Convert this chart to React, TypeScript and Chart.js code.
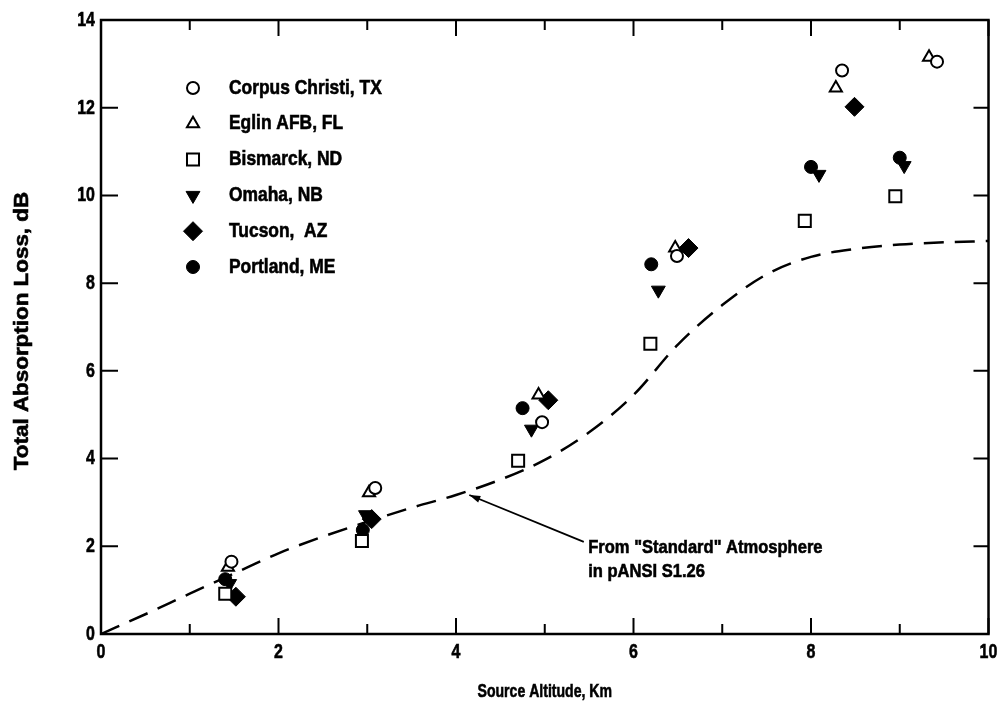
import React, { useEffect, useRef } from "react";
import { Chart, registerables } from "chart.js";
import { drawPoint } from "chart.js/helpers";

Chart.register(...registerables);

// ---- data ----
const stationNames = ["Corpus Christi, TX", "Eglin AFB, FL", "Bismarck, ND", "Omaha, NB", "Tucson,  AZ", "Portland, ME"];

const corpusX = [1.47, 3.09, 4.97, 6.49, 8.35, 9.42];
const corpusY = [1.65, 3.33, 4.83, 8.62, 12.85, 13.05];
const eglinX = [1.43, 3.02, 4.93, 6.47, 8.28, 9.33];
const eglinY = [1.52, 3.22, 5.45, 8.8, 12.45, 13.15];
const bismarckX = [1.4, 2.94, 4.7, 6.19, 7.93, 8.95];
const bismarckY = [0.92, 2.12, 3.95, 6.62, 9.42, 9.98];
const omahaX = [1.45, 2.98, 4.85, 6.28, 8.09, 9.05];
const omahaY = [1.15, 2.72, 4.67, 7.84, 10.48, 10.68];
const tucsonX = [1.52, 3.05, 5.04, 6.62, 8.49];
const tucsonY = [0.85, 2.62, 5.33, 8.8, 12.02];
const portlandX = [1.4, 2.95, 4.75, 6.2, 8.0, 9.0];
const portlandY = [1.25, 2.37, 5.15, 8.43, 10.65, 10.86];

const standardX = [0, 0.5, 1, 1.5, 2, 2.5, 3, 3.5, 4, 4.5, 5, 5.5, 6, 6.5, 7, 7.5, 8, 8.5, 9, 9.5, 10];
const standardY = [0, 0.45, 0.92, 1.38, 1.84, 2.22, 2.56, 2.88, 3.17, 3.52, 3.97, 4.6, 5.45, 6.6, 7.5, 8.2, 8.6, 8.78, 8.88, 8.93, 8.96];

const xTickMarks = [0, 1, 2, 3, 4, 5, 6, 7, 8, 9, 10];
const yTickMarks = [0, 2, 4, 6, 8, 10, 12, 14];

const xTitle = "Source Altitude, Km";
const yTitle = "Total Absorption Loss, dB";
const annotationLines = ['From "Standard" Atmosphere', "in pANSI S1.26"];

const FONT = "'Liberation Sans', Arial, sans-serif";

const toPts = (xs: number[], ys: number[]) => xs.map((x, i) => ({ x, y: ys[i] }));

const markerStyles = [
  { pointStyle: "circle", radius: 6, rotation: 0, fill: "#fff", borderWidth: 2 },
  { pointStyle: "triangle", radius: 7, rotation: 0, fill: "#fff", borderWidth: 2 },
  { pointStyle: "rect", radius: 8.5, rotation: 0, fill: "#fff", borderWidth: 2 },
  { pointStyle: "triangle", radius: 8, rotation: 180, fill: "#000", borderWidth: 1 },
  { pointStyle: "rectRot", radius: 9.5, rotation: 0, fill: "#000", borderWidth: 1 },
  { pointStyle: "circle", radius: 6.5, rotation: 0, fill: "#000", borderWidth: 1 },
];

const seriesX = [corpusX, eglinX, bismarckX, omahaX, tucsonX, portlandX];
const seriesY = [corpusY, eglinY, bismarckY, omahaY, tucsonY, portlandY];

function drawText(
  ctx: CanvasRenderingContext2D,
  text: string,
  x: number,
  y: number,
  size: number,
  sx: number,
  align: CanvasTextAlign,
  rotate = false
) {
  ctx.save();
  ctx.translate(x, y);
  if (rotate) ctx.rotate(-Math.PI / 2);
  ctx.scale(sx, 1);
  ctx.font = `bold ${size}px ${FONT}`;
  ctx.textAlign = align;
  ctx.textBaseline = "middle";
  ctx.fillStyle = "#000";
  ctx.strokeStyle = "#000";
  ctx.lineWidth = 0.6;
  ctx.fillText(text, 0, 0);
  ctx.strokeText(text, 0, 0);
  ctx.restore();
}

const framePlugin = {
  id: "frameTicks",
  beforeDatasetsDraw(chart: any) {
    const { ctx, chartArea, scales } = chart;
    const { left, right, top, bottom } = chartArea;
    ctx.save();
    ctx.strokeStyle = "#000";
    ctx.lineWidth = 2.5;
    ctx.strokeRect(left, top, right - left, bottom - top);
    ctx.lineWidth = 2;
    ctx.beginPath();
    for (const v of xTickMarks) {
      const px = scales.x.getPixelForValue(v);
      const len = v % 2 === 0 ? 16 : 10;
      ctx.moveTo(px, bottom);
      ctx.lineTo(px, bottom - len);
      ctx.moveTo(px, top);
      ctx.lineTo(px, top + len);
    }
    for (const v of yTickMarks) {
      const py = scales.y.getPixelForValue(v);
      ctx.moveTo(left, py);
      ctx.lineTo(left + 17, py);
      ctx.moveTo(right, py);
      ctx.lineTo(right - 15, py);
    }
    ctx.stroke();
    ctx.restore();
  },
  afterDatasetsDraw(chart: any) {
    const { ctx, scales } = chart;
    const x = scales.x;
    const y = scales.y;
    ctx.save();
    // arrow
    const tx = x.getPixelForValue(4.15);
    const ty = y.getPixelForValue(3.17);
    const sx = x.getPixelForValue(5.44);
    const sy = y.getPixelForValue(2.1);
    ctx.strokeStyle = "#000";
    ctx.fillStyle = "#000";
    ctx.lineWidth = 1.8;
    ctx.beginPath();
    ctx.moveTo(sx, sy);
    ctx.lineTo(tx, ty);
    ctx.stroke();
    const ang = Math.atan2(ty - sy, tx - sx);
    const hl = 11;
    const hw = 3.5;
    ctx.beginPath();
    ctx.moveTo(tx, ty);
    ctx.lineTo(tx - hl * Math.cos(ang) + hw * Math.sin(ang), ty - hl * Math.sin(ang) - hw * Math.cos(ang));
    ctx.lineTo(tx - hl * Math.cos(ang) - hw * Math.sin(ang), ty - hl * Math.sin(ang) + hw * Math.cos(ang));
    ctx.closePath();
    ctx.fill();
    ctx.restore();
    const textX = x.getPixelForValue(5.49);
    drawText(ctx, annotationLines[0], textX, y.getPixelForValue(1.96), 19, 0.87, "left");
    drawText(ctx, annotationLines[1], textX, y.getPixelForValue(1.41), 19, 0.87, "left");
  },
  afterDraw(chart: any) {
    const { ctx, chartArea, scales } = chart;
    // tick labels
    for (const t of scales.x.ticks) {
      drawText(ctx, String(t.value), scales.x.getPixelForValue(t.value), chartArea.bottom + 18, 21, 0.76, "center");
    }
    for (const t of scales.y.ticks) {
      drawText(ctx, String(t.value), chartArea.left - 6, scales.y.getPixelForValue(t.value), 21, 0.76, "right");
    }
    // axis titles
    drawText(ctx, xTitle, (chartArea.left + chartArea.right) / 2, chartArea.bottom + 58, 19, 0.74, "center");
    drawText(ctx, yTitle, 22, (chartArea.top + chartArea.bottom) / 2 + 4, 20, 1.12, "center", true);
    // legend
    const mx = chartArea.left + 92;
    const tx = chartArea.left + 128;
    const y0 = chartArea.top + 68;
    const dy = 35.8;
    stationNames.forEach((name, i) => {
      const m = markerStyles[i];
      const yy = y0 + dy * i;
      ctx.save();
      ctx.fillStyle = m.fill;
      ctx.strokeStyle = "#000";
      ctx.lineWidth = m.borderWidth;
      drawPoint(ctx, { pointStyle: m.pointStyle, radius: m.radius, rotation: m.rotation, borderWidth: m.borderWidth } as any, mx, yy);
      ctx.restore();
      drawText(ctx, name, tx, yy, 20, 0.87, "left");
    });
  },
};

export default function App() {
  const ref = useRef<HTMLCanvasElement>(null);
  useEffect(() => {
    document.body.style.margin = "0";
    const datasets: any[] = stationNames.map((name, i) => {
      const m = markerStyles[i];
      return {
        label: name,
        data: toPts(seriesX[i], seriesY[i]),
        pointStyle: m.pointStyle,
        pointRadius: m.radius,
        pointRotation: m.rotation,
        pointBackgroundColor: m.fill,
        pointBorderColor: "#000",
        pointBorderWidth: m.borderWidth,
        showLine: false,
        order: 1,
      };
    });
    datasets.push({
      label: "Standard Atmosphere",
      data: toPts(standardX, standardY),
      showLine: true,
      borderColor: "#000",
      borderWidth: 2.5,
      borderDash: [20, 11],
      pointRadius: 0,
      cubicInterpolationMode: "monotone",
      fill: false,
      order: 2,
    });
    const chart = new Chart(ref.current!, {
      type: "scatter",
      data: { datasets },
      options: {
        animation: false,
        responsive: false,
        layout: { padding: { top: 20, right: 9, bottom: 0, left: 0 } },
        plugins: { legend: { display: false }, tooltip: { enabled: false } },
        scales: {
          x: {
            type: "linear",
            min: 0,
            max: 10,
            ticks: { stepSize: 2, display: false },
            grid: { display: false, drawTicks: false },
            border: { display: false },
            afterFit: (s: any) => {
              s.height = 74;
              s.paddingLeft = 0;
              s.paddingRight = 0;
            },
          },
          y: {
            type: "linear",
            min: 0,
            max: 14,
            ticks: { stepSize: 2, display: false },
            grid: { display: false, drawTicks: false },
            border: { display: false },
            afterFit: (s: any) => {
              s.width = 101;
              s.paddingTop = 0;
              s.paddingBottom = 0;
            },
          },
        },
      } as any,
      plugins: [framePlugin],
    });
    return () => chart.destroy();
  }, []);
  return (
    <div style={{ width: 999, height: 708 }}>
      <canvas ref={ref} width={999} height={708} style={{ display: "block" }} />
    </div>
  );
}
